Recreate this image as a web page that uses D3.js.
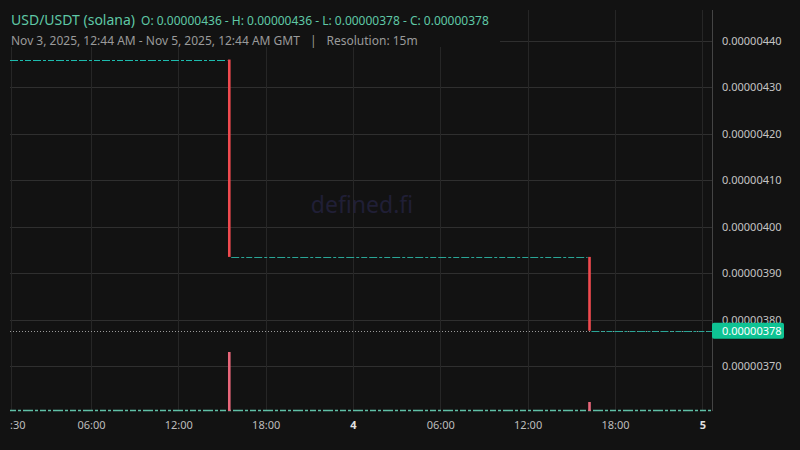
<!DOCTYPE html>
<html><head><meta charset="utf-8">
<script src="https://cdn.jsdelivr.net/npm/d3@7"></script>
<style>
html,body{margin:0;padding:0;background:#121212;}
svg{display:block;font-family:"Noto Sans","Open Sans",sans-serif;}
</style></head>
<body><svg id="c" width="800" height="450"></svg>
<script>
// ---- data ----
const candleTimes = ["2025-11-03T15:30:00Z", "2025-11-04T16:15:00Z"];
const candleOpen  = [0.00000436, 0.000003935];
const candleHigh  = [0.00000436, 0.000003935];
const candleLow   = [0.000003935, 0.000003776];
const candleClose = [0.000003935, 0.000003776];
const candleVolume = [5.9, 0.9];
// flat (no-trade) periods between price changes
const flatStart = ["2025-11-03T00:26:00Z", "2025-11-03T15:38:00Z", "2025-11-04T16:23:00Z"];
const flatEnd   = ["2025-11-03T15:22:00Z", "2025-11-04T16:07:00Z", "2025-11-05T00:40:00Z"];
const flatPrice = [0.00000436, 0.000003935, 0.000003776];
const lastPrice = 0.000003776;
const priceTicks = [0.0000037, 0.0000038, 0.0000039, 0.0000040, 0.0000041, 0.0000042, 0.0000043, 0.0000044];
const timeTicks = ["2025-11-03T00:30:00Z","2025-11-03T06:00:00Z","2025-11-03T12:00:00Z","2025-11-03T18:00:00Z",
                   "2025-11-04T00:00:00Z","2025-11-04T06:00:00Z","2025-11-04T12:00:00Z","2025-11-04T18:00:00Z","2025-11-05T00:00:00Z"];
const timeTickLabels = ["00:30","06:00","12:00","18:00","4","06:00","12:00","18:00","5"];
const title = "USD/USDT (solana)";
const ohlcText = "O: 0.00000436 - H: 0.00000436 - L: 0.00000378 - C: 0.00000378";
const subtitle = "Nov 3, 2025, 12:44 AM - Nov 5, 2025, 12:44 AM GMT";
const resolution = "Resolution: 15m";

// ---- layout ----
const W = 800, H = 450;
const L = 10, R = 712, T = 10, B = 411;
const svg = d3.select("#c");
svg.append("rect").attr("width",W).attr("height",H).attr("fill","#121212");

const x = d3.scaleUtc()
  .domain([new Date("2025-11-03T00:26:00Z"), new Date("2025-11-05T00:40:00Z")])
  .range([L, R]);
const y = d3.scaleLinear().domain([0.0000037, 0.0000044]).range([366, 41]);
const yv = d3.scaleLinear().domain([0, 10]).range([B, B - 100]);

svg.append("defs").append("clipPath").attr("id","plotclip")
  .append("rect").attr("x",L).attr("y",0).attr("width",R-L).attr("height",H);

// grid
const grid = svg.append("g");
grid.selectAll("line.h").data(priceTicks).join("line")
  .attr("x1",L).attr("x2",R).attr("y1",d=>Math.round(y(d))+0.5).attr("y2",d=>Math.round(y(d))+0.5)
  .attr("stroke","#2f2f2f").attr("stroke-width",1);
grid.selectAll("line.v").data(timeTicks).join("line")
  .attr("x1",d=>Math.round(x(new Date(d)))+0.5).attr("x2",d=>Math.round(x(new Date(d)))+0.5)
  .attr("y1",T).attr("y2",B)
  .attr("stroke","#262626").attr("stroke-width",1);

// header backdrop
svg.append("rect").attr("x",0).attr("y",0).attr("width",500).attr("height",47).attr("fill","#121212");

// right border
svg.append("line").attr("x1",R+0.5).attr("x2",R+0.5).attr("y1",T).attr("y2",B)
  .attr("stroke","#444").attr("stroke-width",1);

// watermark
svg.append("text").attr("x",362).attr("y",213).attr("text-anchor","middle")
  .attr("font-size",23).attr("fill","#201f36").text("defined.fi");

const plot = svg.append("g").attr("clip-path","url(#plotclip)");

// volume baseline (zero-volume bars)
plot.append("line").attr("x1",L).attr("x2",R).attr("y1",B-0.5).attr("y2",B-0.5)
  .attr("stroke","#5fbfa6").attr("stroke-width",1.5).attr("stroke-dasharray","6,2,3,2,10,2,3,2");

// volume bars
plot.selectAll("rect.vol").data(candleTimes).join("rect")
  .attr("x",d=>x(new Date(d))-1.3).attr("width",2.6)
  .attr("y",(d,i)=>yv(candleVolume[i])).attr("height",(d,i)=>B-yv(candleVolume[i]))
  .attr("fill","#e8667a");

// last price dotted line
plot.append("line").attr("x1",L).attr("x2",R).attr("y1",Math.round(y(lastPrice))+0.5).attr("y2",Math.round(y(lastPrice))+0.5)
  .attr("stroke","#9a9a9a").attr("stroke-width",1).attr("stroke-dasharray","1,2");

// flat periods
plot.selectAll("line.flat").data(flatPrice).join("line")
  .attr("x1",(d,i)=>x(new Date(flatStart[i]))).attr("x2",(d,i)=>x(new Date(flatEnd[i])))
  .attr("y1",d=>Math.round(y(d))+0.5).attr("y2",d=>Math.round(y(d))+0.5)
  .attr("stroke",(d,i)=>i===0?"#1dbcae":"#2aa596").attr("stroke-width",1.2)
  .attr("stroke-dasharray","8,2,3,2,6,2");

// candles
plot.selectAll("rect.candle").data(candleTimes).join("rect")
  .attr("x",d=>x(new Date(d))-1.3).attr("width",2.6)
  .attr("y",(d,i)=>y(Math.max(candleOpen[i],candleClose[i])))
  .attr("height",(d,i)=>Math.abs(y(candleOpen[i])-y(candleClose[i])))
  .attr("fill",(d,i)=>candleClose[i]>=candleOpen[i]?"#26a69a":"#f04a4f");

// y axis labels
svg.selectAll("text.ylab").data(priceTicks).join("text")
  .attr("x",722).attr("y",d=>y(d)+4).attr("font-size",11).attr("fill","#c4c4c4")
  .text(d=>d.toFixed(8));

// last price tag
const ly = y(lastPrice);
svg.append("rect").attr("x",R).attr("y",ly-8).attr("width",72).attr("height",16).attr("rx",2).attr("fill","#0ec393");
svg.append("text").attr("x",722).attr("y",ly+4).attr("font-size",11).attr("fill","#ffffff").text(lastPrice.toFixed(8));

// x axis labels
svg.append("defs").append("clipPath").attr("id","xclip")
  .append("rect").attr("x",L).attr("y",B).attr("width",W-L).attr("height",H-B);
svg.append("g").attr("clip-path","url(#xclip)")
  .selectAll("text").data(timeTicks).join("text")
  .attr("x",d=>x(new Date(d))+0.5).attr("y",429).attr("text-anchor","middle")
  .attr("font-size",11)
  .attr("font-weight",(d,i)=>/^\d$/.test(timeTickLabels[i])?"bold":"normal")
  .attr("fill",(d,i)=>/^\d$/.test(timeTickLabels[i])?"#e0e0e0":"#bdbdbd")
  .text((d,i)=>timeTickLabels[i]);

// header
const h1 = svg.append("text").attr("x",11).attr("y",25).attr("fill","#5fc8a6");
h1.append("tspan").attr("font-size",14).text(title);
h1.append("tspan").attr("font-size",12).attr("dx",6).text(ohlcText);
const h2 = svg.append("text").attr("x",11).attr("y",45).attr("fill","#9a9a9a").attr("font-size",12);
h2.append("tspan").text(subtitle);
h2.append("tspan").attr("dx",10).text("|");
h2.append("tspan").attr("dx",10).text(resolution);
</script></body></html>
